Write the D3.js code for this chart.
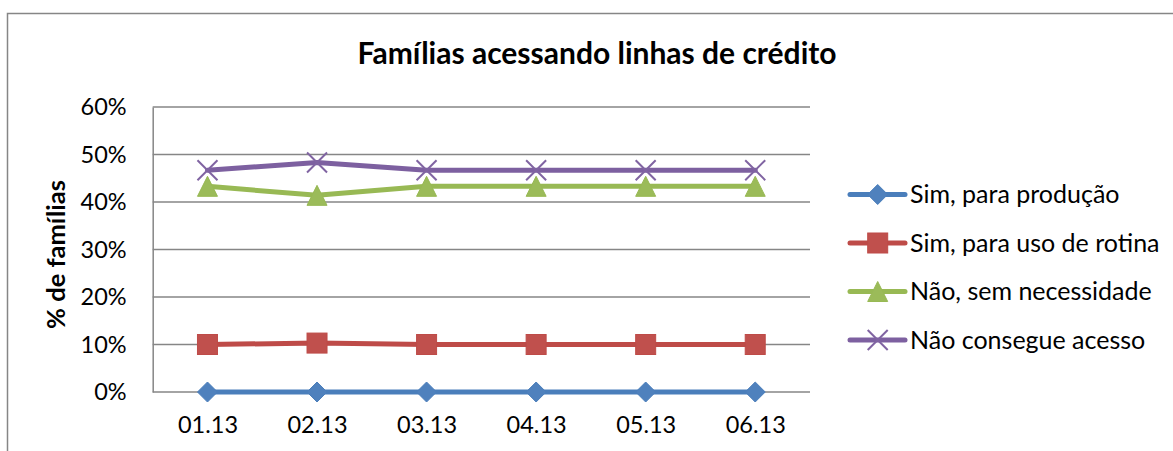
<!DOCTYPE html>
<html>
<head>
<meta charset="utf-8">
<script src="https://cdn.jsdelivr.net/npm/d3@7"></script>
<style>
  body { margin: 0; background: #fff; }
  svg { display: block; }
  text { font-family: Lato, "Open Sans", sans-serif; fill: #000; }
</style>
</head>
<body>
<div class="chart"></div>
<script>
// data
const months = ["01.13", "02.13", "03.13", "04.13", "05.13", "06.13"];
const simProducao = [0, 0, 0, 0, 0, 0];
const simRotina = [10, 10.3, 10, 10, 10, 10];
const naoSemNecessidade = [43.3, 41.4, 43.3, 43.3, 43.3, 43.3];
const naoConsegue = [46.7, 48.3, 46.7, 46.7, 46.7, 46.7];
const yTicks = [0, 10, 20, 30, 40, 50, 60];

const series = [
  { name: "Sim, para produção", values: simProducao, color: "#4A7EBB", fill: "#4F81BD", marker: "diamond" },
  { name: "Sim, para uso de rotina", values: simRotina, color: "#BE4B48", fill: "#C0504D", marker: "square" },
  { name: "Não, sem necessidade", values: naoSemNecessidade, color: "#98B954", fill: "#9BBB59", marker: "triangle" },
  { name: "Não consegue acesso", values: naoConsegue, color: "#7D60A0", fill: "#8064A2", marker: "x" }
];

const width = 1173;
const height = 451;
const margin = { top: 107, right: 363, bottom: 59, left: 152.7 };

const svg = d3.select(".chart")
  .append("svg")
  .attr("width", width)
  .attr("height", height);

// chart border (runs off the picture on right and bottom)
svg.append("rect")
  .attr("x", 7.5)
  .attr("y", 13.5)
  .attr("width", 1300)
  .attr("height", 600)
  .attr("fill", "none")
  .attr("stroke", "#868686")
  .attr("stroke-width", 1.5);

const x = d3.scalePoint()
  .domain(months)
  .range([margin.left, width - margin.right])
  .padding(0.5);

const y = d3.scaleLinear()
  .domain([0, 60])
  .range([height - margin.bottom, margin.top]);

// title
svg.append("text")
  .attr("x", 597)
  .attr("y", 64)
  .attr("text-anchor", "middle")
  .attr("font-size", 30)
  .attr("font-weight", "bold")
  .text("Famílias acessando linhas de crédito");

// gridlines
svg.append("g")
  .selectAll("line")
  .data(yTicks)
  .join("line")
  .attr("x1", margin.left)
  .attr("x2", width - margin.right)
  .attr("y1", d => y(d))
  .attr("y2", d => y(d))
  .attr("stroke", "#868686")
  .attr("stroke-width", 1.5);

// y axis
const yAxis = g =>
  g.attr("transform", `translate(${margin.left},0)`)
    .call(d3.axisLeft(y).tickValues(yTicks).tickFormat(d => d + "%").tickSize(0).tickPadding(26))
    .call(g => g.select(".domain").attr("stroke", "#868686").attr("stroke-width", 1.5))
    .call(g => g.selectAll("text").attr("font-size", 23.5).attr("font-family", "Lato, sans-serif").attr("fill", "#000"));
svg.append("g").call(yAxis);

// x axis labels
const xAxis = g =>
  g.attr("transform", `translate(0,${y(0)})`)
    .call(d3.axisBottom(x).tickSize(0).tickPadding(24))
    .call(g => g.select(".domain").remove())
    .call(g => g.selectAll("text").attr("font-size", 23.5).attr("font-family", "Lato, sans-serif").attr("fill", "#000"));
svg.append("g").call(xAxis);

// y label
svg.append("text")
  .attr("transform", `translate(65,254.5) rotate(-90)`)
  .attr("text-anchor", "middle")
  .attr("font-size", 25.5)
  .attr("font-weight", "bold")
  .text("% de famílias");

function drawMarker(g, type, s) {
  const r = 10;
  if (type === "diamond") {
    g.append("path").attr("d", `M0,${-r}L${r},0L0,${r}L${-r},0Z`)
      .attr("fill", s.fill).attr("stroke", s.color).attr("stroke-width", 1);
  } else if (type === "square") {
    g.append("rect").attr("x", -r).attr("y", -r).attr("width", 2 * r).attr("height", 2 * r)
      .attr("fill", s.fill).attr("stroke", s.color).attr("stroke-width", 1);
  } else if (type === "triangle") {
    g.append("path").attr("d", `M0,${-r}L${r},${r}L${-r},${r}Z`)
      .attr("fill", s.fill).attr("stroke", s.color).attr("stroke-width", 1);
  } else {
    g.append("path").attr("d", `M${-r},${-r}L${r},${r}M${r},${-r}L${-r},${r}`)
      .attr("fill", "none").attr("stroke", s.fill).attr("stroke-width", 2);
  }
}

const line = d3.line()
  .x((d, i) => x(months[i]))
  .y(d => y(d));

series.forEach(s => {
  svg.append("path")
    .datum(s.values)
    .attr("fill", "none")
    .attr("stroke", s.color)
    .attr("stroke-width", 5)
    .attr("stroke-linejoin", "round")
    .attr("stroke-linecap", "round")
    .attr("d", line);

  svg.append("g")
    .selectAll("g")
    .data(s.values)
    .join("g")
    .attr("transform", (d, i) => `translate(${x(months[i])},${y(d)})`)
    .each(function () { drawMarker(d3.select(this), s.marker, s); });
});

// legend
const legend = svg.append("g")
  .selectAll("g")
  .data(series)
  .join("g")
  .attr("transform", (d, i) => `translate(850,${194.5 + i * 48.5})`);

legend.append("line")
  .attr("x1", 0)
  .attr("x2", 55)
  .attr("stroke", d => d.color)
  .attr("stroke-width", 5)
  .attr("stroke-linecap", "round");

legend.append("g")
  .attr("transform", "translate(27.7,0)")
  .each(function (d) { drawMarker(d3.select(this), d.marker, d); });

legend.append("text")
  .attr("x", 60)
  .attr("dy", "0.35em")
  .attr("font-size", 25)
  .text(d => d.name);
</script>
</body>
</html>
